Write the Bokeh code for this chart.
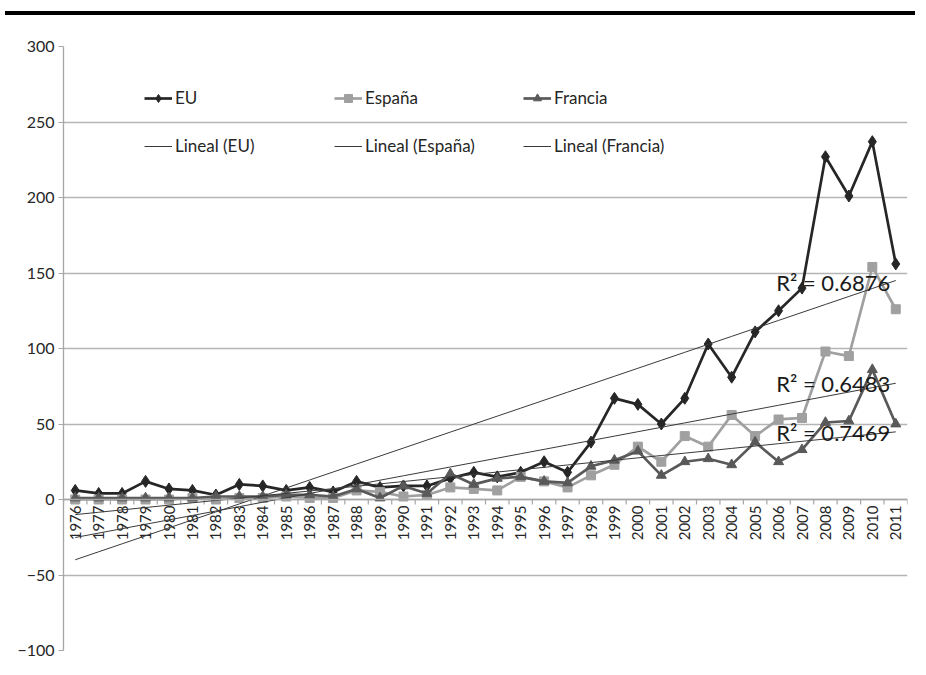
import numpy as np
from bokeh.plotting import figure
from bokeh.models import (Legend, LegendItem, Label, Span, Div, FixedTicker, Range1d)
from bokeh.layouts import column
from bokeh.embed import file_html
from bokeh.resources import INLINE
from bokeh.core.properties import value

# ---------------- data ----------------
years = list(range(1976, 2012))
eu = [6, 4, 4, 12, 7, 6, 3, 10, 9, 6, 8, 5, 12,
      8, 9, 9, 14, 18, 15, 18, 25, 18, 38, 67, 63,
      50, 67, 103, 81, 111, 125, 140, 227, 201, 237, 156]
espana = [0, 0, 0, 0, 0, 1, 0, 1, 1, 2, 1, 1, 6,
          5, 2, 3, 8, 7, 6, 15, 12, 8, 16, 23, 35,
          25, 42, 35, 56, 42, 53, 54, 98, 95, 154, 126]
francia = [1, 1, 1, 1, 1, 1, 2, 2, 2, 3, 3, 2, 7,
           1, 9, 4, 17, 10, 14, 15, 12, 11, 22, 26, 32,
           16, 25, 27, 23, 38, 25, 33, 51, 52, 86, 50]
series_names = ["EU", "España", "Francia"]
trend_names = ["Lineal (EU)", "Lineal (España)", "Lineal (Francia)"]
r2_labels = ["R² = 0.6876", "R² = 0.6483", "R² = 0.7469"]
y_ticks = [-100, -50, 0, 50, 100, 150, 200, 250, 300]

FONT = "Lato"
TXT = "#262626"

# ---------------- figure ----------------
p = figure(width=910, height=645, output_backend="svg", toolbar_location=None,
           x_range=Range1d(1975.5, 2011.5), y_range=Range1d(-100, 300),
           x_axis_location=None,
           min_border_left=63, min_border_right=3, min_border_top=26, min_border_bottom=15)
p.outline_line_color = None
p.background_fill_color = "white"
p.border_fill_color = "white"
p.xgrid.visible = False
p.ygrid.ticker = FixedTicker(ticks=y_ticks)
p.ygrid.grid_line_color = "#b5b5b5"
p.ygrid.grid_line_width = 1.3

ax = p.yaxis[0]
ax.ticker = FixedTicker(ticks=y_ticks)
ax.axis_line_color = "#a6a6a6"
ax.axis_line_width = 1.3
ax.major_tick_line_color = "#a6a6a6"
ax.major_tick_out = 5
ax.major_tick_in = 0
ax.minor_tick_line_color = None
ax.major_label_standoff = 4
ax.major_label_text_font = FONT
ax.major_label_text_font_size = "16px"
ax.major_label_text_color = TXT

# horizontal category axis crossing at 0
p.add_layout(Span(location=0, dimension="width", line_color="#a6a6a6", line_width=1.3))
bounds = [y - 0.5 for y in years] + [years[-1] + 0.5]
p.segment(x0=bounds, x1=bounds, y0=[0] * len(bounds), y1=[-3.3] * len(bounds),
          line_color="#a6a6a6", line_width=1.2)
p.text(x=years, y=[0] * len(years), text=[str(y) for y in years], angle=np.pi / 2,
       text_align="right", text_baseline="middle", y_offset=6,
       text_font=value(FONT), text_font_size="15px", text_color=TXT)

# ---------------- series ----------------
styles = [
    dict(color="#262626", marker="diamond", size=12),
    dict(color="#a0a0a0", marker="square", size=9),
    dict(color="#595959", marker="triangle", size=10),
]
all_vals = [eu, espana, francia]
series_r = []
for vals, st in zip(all_vals, styles):
    l = p.line(years, vals, line_color=st["color"], line_width=2.7)
    s = p.scatter(years, vals, marker=st["marker"], size=st["size"],
                  fill_color=st["color"], line_color=st["color"])
    series_r.append([l, s])

# linear trend lines (least squares, like Excel)
x_idx = np.arange(1, len(years) + 1)
trend_r = []
for vals in all_vals:
    slope, intercept = np.polyfit(x_idx, np.array(vals, dtype=float), 1)
    t = p.line(years, slope * x_idx + intercept, line_color="#3a3a3a", line_width=1)
    trend_r.append(t)

# R² labels
r2_pos = [(2005.9, 143.5), (2005.9, 77), (2005.9, 44.5)]
for txt, (lx, ly) in zip(r2_labels, r2_pos):
    p.add_layout(Label(x=lx, y=ly, text=txt, text_baseline="middle",
                       text_font=FONT, text_font_size="22px", text_color="#1a1a1a"))

# legends: three columns, two rows each
col_x = [81, 271, 460]
for i in range(3):
    leg = Legend(items=[LegendItem(label=series_names[i], renderers=series_r[i]),
                        LegendItem(label=trend_names[i], renderers=[trend_r[i]])],
                 location=(col_x[i], 494), orientation="vertical",
                 glyph_width=28, glyph_height=20, label_standoff=3, spacing=27,
                 padding=0, margin=0, border_line_color=None, background_fill_alpha=0,
                 label_text_font=FONT, label_text_font_size="17px", label_text_color=TXT)
    p.add_layout(leg)

top_rule = Div(width=910, height=10,
               styles={"border-bottom": "4px solid black", "box-sizing": "border-box"})
layout = column(top_rule, p, spacing=0)

open("out.html", "w").write(file_html(layout, INLINE))
